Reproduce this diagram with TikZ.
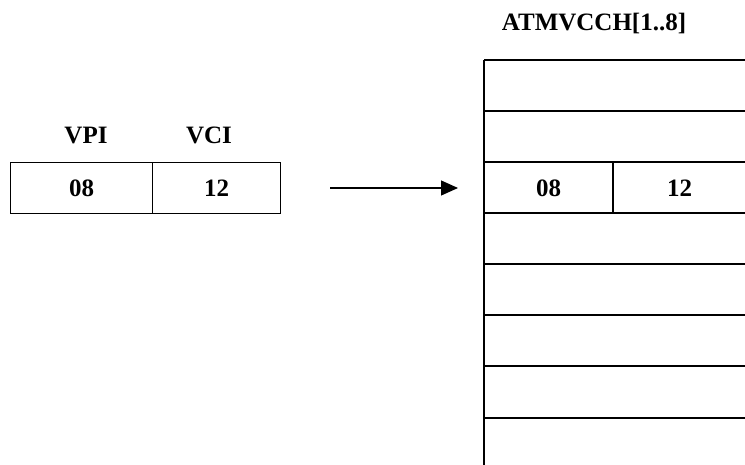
\documentclass[tikz,border=0pt]{standalone}
\usepackage{fontspec}
\setmainfont{Liberation Serif}
\usetikzlibrary{arrows.meta}
\tikzset{
  cell/.style={draw, line width=1.2pt, minimum height=51pt, inner sep=0pt,
               font=\fontsize{25}{27}\selectfont\bfseries, anchor=north west},
  lbl/.style={font=\fontsize{25}{27}\selectfont\bfseries, inner sep=0pt, anchor=base},
  rule/.style={line width=1.5pt},
  link/.style={line width=1.2pt, -{Triangle[length=17pt,width=15pt]}}
}
\begin{document}
\begin{tikzpicture}[x=1pt,y=-1pt]
\useasboundingbox (0,0) rectangle (745,465);
\clip (0,0) rectangle (745,465);

% source record: VPI / VCI
\node[lbl] (vpiL) at (86,144) {VPI};
\node[lbl] (vciL) at (209,144) {VCI};
\node[cell, minimum width=142pt] (vpi) at (10,162) {08};
\node[cell, minimum width=128pt] (vci) at (152,162) {12};

% table ATMVCCH[1..8]: row rules, left side, and the filled entry
\node[lbl] (title) at (594,31) {ATMVCCH[1..8]};
\foreach \y in {60,111,162,213,264,315,366,418} {
  \draw[rule] (484,\y) -- (760,\y);
}
\draw[rule] (484,60) -- (484,470);
\node[cell, draw=none, minimum width=128pt] (t08) at (484,162) {08};
\node[cell, draw=none, minimum width=134pt] (t12) at (612,162) {12};
\draw[rule] (t08.north east) -- (t08.south east);

% mapping arrow
\coordinate (a0) at (330,188);
\coordinate (a1) at (458,188);
\draw[link] (a0) -- (a1);
\end{tikzpicture}
\end{document}
